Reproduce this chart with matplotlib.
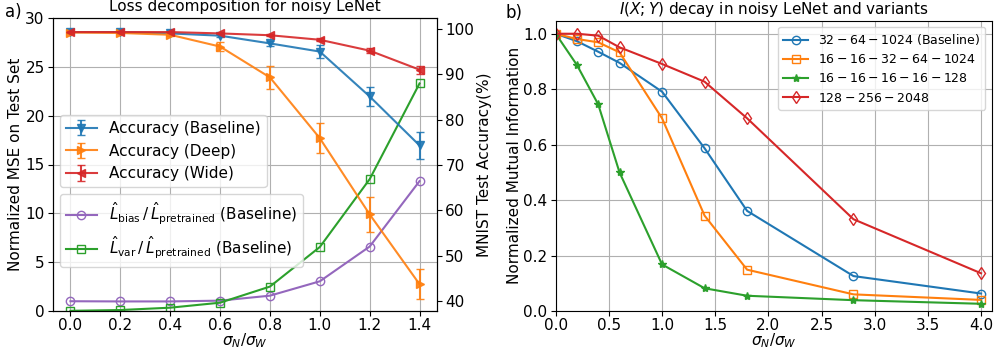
import numpy as np
import matplotlib
matplotlib.use("Agg")
import matplotlib.pyplot as plt

plt.rcParams["font.size"] = 11
plt.rcParams["xtick.major.pad"] = 1.5
plt.rcParams["ytick.major.pad"] = 2.5

# panel a) data
ratio_a = [0.0, 0.2, 0.4, 0.6, 0.8, 1.0, 1.2, 1.4]
acc_base = [99.3, 99.3, 99.0, 98.5, 96.8, 95.0, 85.1, 74.3]
acc_base_err = [0.2, 0.2, 0.2, 0.3, 0.6, 1.5, 2.0, 2.9]
acc_deep = [99.2, 99.1, 98.7, 96.1, 89.3, 75.9, 59.1, 43.7]
acc_deep_err = [0.2, 0.2, 0.3, 1.0, 2.5, 3.3, 3.8, 3.3]
acc_wide = [99.3, 99.3, 99.3, 99.0, 98.6, 97.6, 95.2, 91.0]
acc_wide_err = [0.1, 0.1, 0.1, 0.1, 0.2, 0.3, 0.55, 0.9]
loss_bias = [1.0, 0.98, 0.98, 1.06, 1.57, 3.04, 6.6, 13.3]
loss_var = [0.02, 0.1, 0.34, 0.85, 2.5, 6.55, 13.5, 23.3]

# panel b) data
ratio_b = [0.0, 0.2, 0.4, 0.6, 1.0, 1.4, 1.8, 2.8, 4.0]
mi_base = [1.0, 0.973, 0.935, 0.895, 0.791, 0.587, 0.361, 0.126, 0.063]
mi_deep = [1.0, 0.981, 0.969, 0.933, 0.695, 0.344, 0.149, 0.060, 0.040]
mi_narrow = [1.0, 0.887, 0.745, 0.500, 0.168, 0.082, 0.055, 0.039, 0.026]
mi_wide = [1.0, 1.0, 0.993, 0.951, 0.891, 0.827, 0.695, 0.331, 0.136]

fig = plt.figure(figsize=(9.94, 3.49), dpi=100)
W, H = 994.0, 349.0
ax1 = fig.add_axes([53 / W, 38 / H, 384 / W, 293 / H])
ax2 = ax1.twinx()

# accuracy on right axis
ekw = dict(capsize=3, elinewidth=1.5, markersize=6, alpha=0.9)
ax2.errorbar(ratio_a, acc_base, yerr=acc_base_err, marker="v",
             color="tab:blue", label="Accuracy (Baseline)", **ekw)
ax2.errorbar(ratio_a, acc_deep, yerr=acc_deep_err, marker=">",
             color="tab:orange", label="Accuracy (Deep)", **ekw)
ax2.errorbar(ratio_a, acc_wide, yerr=acc_wide_err, marker="<",
             color="tab:red", label="Accuracy (Wide)", **ekw)
ax2.set_ylim(37.8, 102.4)
ax2.set_ylabel("MNIST Test Accuracy(%)", labelpad=2)

# loss ratios on left axis
ax1.plot(ratio_a, loss_bias, "-o", color="tab:purple", mfc="none",
         markersize=6,
         label=r"$\hat{L}_{\rm bias}\,/\,\hat{L}_{\rm pretrained}$ (Baseline)")
ax1.plot(ratio_a, loss_var, "-s", color="tab:green", mfc="none",
         markersize=6,
         label=r"$\hat{L}_{\rm var}\,/\,\hat{L}_{\rm pretrained}$ (Baseline)")
ax1.set_ylim(0, 30)
ax1.set_xticks(ratio_a)
ax1.grid(True)
ax1.set_xlabel(r"$\sigma_N/\sigma_W$", labelpad=-1)
ax1.set_ylabel("Normalized MSE on Test Set", labelpad=2)
ax1.set_title("Loss decomposition for noisy LeNet", fontsize=11, pad=5)

ax2.legend(loc="upper left", bbox_to_anchor=(0.018, 0.669), borderaxespad=0)
ax1.legend(loc="upper left", bbox_to_anchor=(0.018, 0.399), borderaxespad=0)

# panel b
ax3 = fig.add_axes([555.7 / W, 38 / H, 436 / W, 290.3 / H])
ax3.plot(ratio_b, mi_base, "-o", color="tab:blue", mfc="none", markersize=6,
         label=r"$32-64-1024$ (Baseline)")
ax3.plot(ratio_b, mi_deep, "-s", color="tab:orange", mfc="none",
         markersize=6, label=r"$16-16-32-64-1024$")
ax3.plot(ratio_b, mi_narrow, "-*", color="tab:green", markersize=6,
         label=r"$16-16-16-16-128$")
ax3.plot(ratio_b, mi_wide, "-d", color="tab:red", mfc="none", markersize=6,
         label=r"$128-256-2048$")
ax3.set_xlim(0, 4.1)
ax3.set_ylim(0, 1.047)
ax3.grid(True)
ax3.set_xlabel(r"$\sigma_N/\sigma_W$", labelpad=-1)
ax3.set_ylabel("Normalized Mutual Information", labelpad=1)
ax3.set_title(r"$I(X;Y)$ decay in noisy LeNet and variants", fontsize=11,
              pad=5)
ax3.legend(loc="upper right", fontsize=9)

fig.text(0.005, 0.965, "a)", fontsize=12, va="center")
fig.text(505 / W, 0.962, "b)", fontsize=12, va="center")

fig.savefig("out.png", dpi=100)
